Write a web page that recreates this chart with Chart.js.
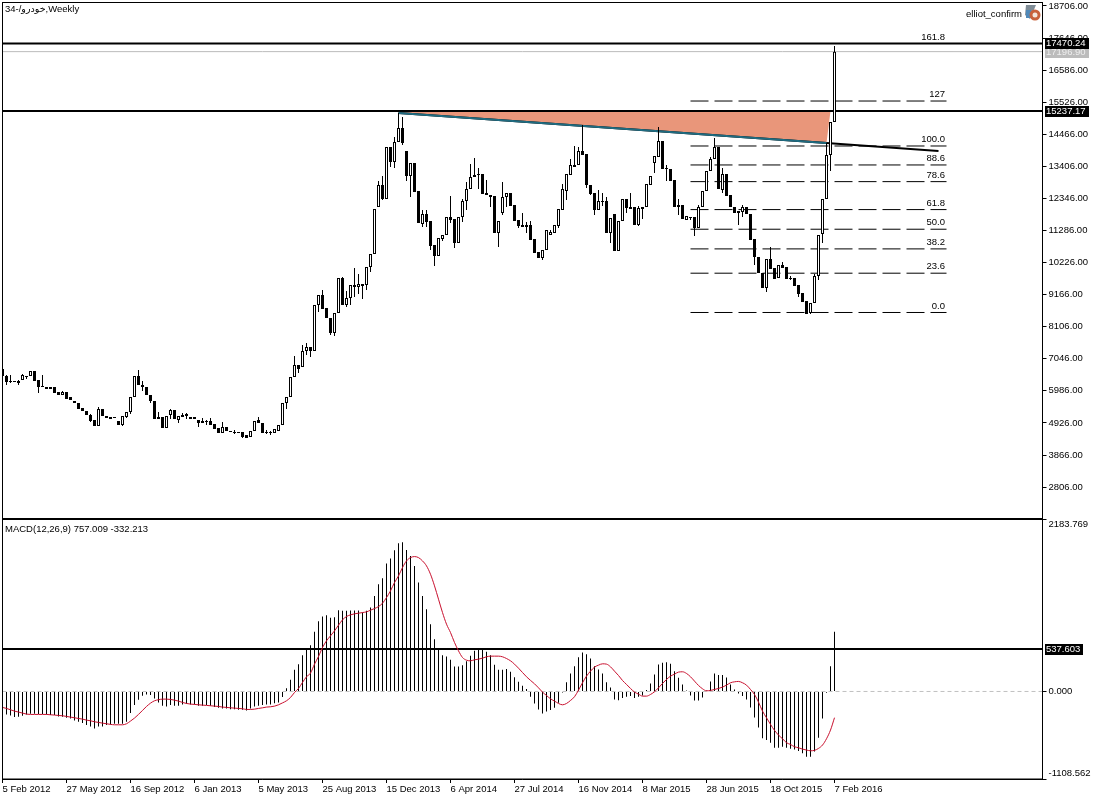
<!DOCTYPE html>
<html>
<head>
<meta charset="utf-8">
<style>html,body{margin:0;padding:0;background:#fff}canvas{display:block}</style>
<script src="https://cdn.jsdelivr.net/npm/chart.js@4"></script>
</head>
<body>
<canvas id="c" width="1100" height="800"></canvas>
<script>
const tickLabels = ["5 Feb 2012","27 May 2012","16 Sep 2012","6 Jan 2013","5 May 2013","25 Aug 2013","15 Dec 2013","6 Apr 2014","27 Jul 2014","16 Nov 2014","8 Mar 2015","28 Jun 2015","18 Oct 2015","7 Feb 2016"];
const priceTicks = [18706,17646,16586,15526,14466,13406,12346,11286,10226,9166,8106,7046,5986,4926,3866,2806];
const macdTicks = [2183.769,0,-1108.562];

const opens = [
6709,6477,6312,6312,6246,6345,6477,6477,6643,6345,
6147,6114,6048,6114,5949,5849,5949,5783,5651,5585,
5420,5321,5188,5023,4825,5387,5155,5122,5122,4990,
4858,5122,5288,5783,6477,6180,6114,5849,5651,5122,
5122,4759,5188,5354,5023,5122,5222,5122,5122,5023,
4924,4990,4990,4891,4759,4594,4792,4660,4627,4627,
4627,4527,4461,4660,5023,4924,4627,4627,4594,4660,
4858,5585,5783,6444,6841,6775,7303,7436,7303,8824,
9154,8725,8394,7899,8559,9716,8824,9055,9485,9419,
9518,9485,10080,10509,12063,12790,12327,14046,13550,14211,
14674,13914,13087,13517,12592,11501,11832,11600,10807,10443,
11005,11137,11732,11666,10873,11732,12261,12658,13054,13153,
13153,12525,12459,12426,11203,11864,12393,12525,12129,11633,
11468,11468,11468,11005,10575,10377,10642,11137,11203,11435,
11964,12592,13120,13451,13451,13914,13814,12790,12525,11964,
12261,12261,11203,11832,10608,11600,12327,12063,12063,11468,
12063,12063,12790,13517,13715,14244,13352,13319,12955,12063,
12129,11633,11732,11732,11369,12063,12592,13253,13649,14046,
12625,13153,12459,12063,11930,11897,12063,11832,11005,10410,
9882,9385,10344,10047,9716,10146,10080,9716,9716,9485,
9220,8956,8559,8890,9782,11170,12327,13781,14872];
const highs = [
6709,6510,6510,6312,6345,6544,6477,6643,6643,6345,
6510,6114,6114,6114,5949,5982,5949,5783,5651,5585,
5420,5321,5222,5023,5453,5387,5155,5122,5122,4990,
5155,5288,5783,6477,6676,6312,6114,5849,5651,5288,
5122,5155,5387,5354,5155,5255,5255,5122,5122,5023,
5089,5023,5089,4891,4759,4957,4792,4660,4693,4627,
4627,4527,4660,4990,5122,4924,4693,4660,4726,4858,
5585,5783,6444,7138,6841,7502,7568,7436,8824,9154,
9320,8725,8394,8559,9716,9749,9287,9485,10047,9849,
9518,10080,10509,11997,12922,13087,14046,14046,14376,15169,
15037,13914,13517,13517,12592,11964,11964,11600,10807,11038,
11137,11732,12426,11666,11732,12327,12889,13484,13682,13352,
13153,12955,12459,12426,11600,12889,12525,12525,12129,11633,
11864,11567,11600,11005,10575,10642,11303,11303,11468,11997,
12823,13153,13649,14079,14046,14773,13814,12790,12525,12625,
12525,12393,11699,11832,11600,12327,12327,12525,12063,12096,
12063,12823,13087,13748,14706,14244,13451,13319,12955,12327,
12129,11765,11732,11732,12129,12592,13253,13715,14343,14046,
13352,13153,12459,12063,11930,12129,12063,11832,11005,10410,
9882,10344,10741,10047,10146,10245,10080,9782,9716,9485,
9220,8956,8890,9849,11137,12327,14178,14872,17384];
const lows = [
6477,6180,6246,6279,6180,6345,6378,6477,6312,5916,
6114,6048,6048,5916,5849,5849,5717,5684,5585,5387,
5321,5188,4957,4825,4825,5155,5089,5056,5089,4858,
4825,5089,5222,5783,6180,5982,5849,5585,5056,5056,
4759,4759,5056,5056,4924,5122,5056,5056,5056,4792,
4924,4858,4858,4726,4594,4594,4660,4627,4561,4594,
4428,4428,4461,4660,4924,4594,4561,4527,4594,4660,
4858,5387,5783,6444,6577,6775,7171,7105,7303,8592,
8692,8394,7833,7800,8559,8824,8758,8824,9088,9187,
9022,9320,9915,10509,12063,12294,12327,13385,13352,14211,
14112,12922,12393,12559,11534,11402,11402,10642,10113,10443,
10939,11137,11534,10708,10873,11567,11964,12658,13054,12658,
12492,12459,12063,11203,10741,11798,12063,12096,11600,11369,
11402,11203,10972,10542,10377,10311,10642,11137,11203,11369,
11964,12294,13120,13385,13451,13781,12691,12459,11798,11964,
12096,11203,10873,10608,10608,11600,11864,11997,11468,11435,
11666,12063,12790,13186,13715,13319,12922,12922,12063,11798,
11666,11633,11633,11104,11369,12063,12592,13253,13649,12658,
12525,12426,12063,11864,11468,11732,11832,10972,10146,9882,
9385,9253,10014,9683,9716,10047,9683,9650,9452,9088,
8923,8526,8526,8890,9650,10873,12327,13253,14872];
const closes = [
6477,6279,6279,6279,6312,6510,6444,6643,6312,6114,
6114,6048,6114,5916,5849,5949,5717,5684,5585,5387,
5321,5188,4990,4825,5387,5155,5089,5056,5089,4858,
5155,5288,5783,6477,6180,6114,5849,5651,5056,5056,
4759,5155,5354,5056,5155,5188,5155,5056,5056,4924,
4990,4957,4858,4726,4594,4792,4660,4627,4594,4594,
4461,4428,4660,4990,4924,4594,4594,4594,4726,4858,
5585,5783,6444,6841,6709,7303,7436,7303,8824,9154,
8692,8394,7899,8559,9716,8824,9055,9485,9419,9518,
9452,10080,10509,11997,12790,12327,14046,13550,14211,14674,
14178,13087,13517,12559,11534,11832,11567,10774,10443,11038,
11137,11732,11633,10873,11732,12261,12658,13054,13120,13120,
12492,12459,12393,11203,11600,12393,12525,12096,11600,11435,
11402,11402,10972,10542,10377,10642,11303,11236,11468,11997,
12658,13153,13451,13385,13914,13781,12790,12492,11964,12261,
12228,11203,11699,10608,11600,12327,12030,11997,11468,12030,
11997,12823,13087,13748,14244,13319,13319,12922,12063,12129,
11666,11765,11699,11369,12063,12592,13253,13649,14046,12658,
13153,12426,12063,11864,11864,12063,11832,10972,10410,9882,
9385,10344,10014,9683,10146,10047,9683,9683,9452,9187,
8923,8526,8890,9782,11137,12327,13781,14872,17196.9];

const macdHist = [
-291,-291,-304,-325,-320,-308,-291,-283,-283,-287,
-287,-291,-299,-299,-316,-320,-333,-342,-367,-384,
-401,-426,-443,-468,-443,-443,-426,-417,-409,-409,
-409,-384,-274,-173,-105,-55,-38,-46,-89,-139,
-181,-190,-173,-181,-181,-164,-156,-164,-164,-181,
-181,-173,-181,-198,-207,-215,-215,-224,-224,-232,
-232,-240,-215,-190,-181,-173,-164,-164,-148,-139,
-70,42,148,274,346,460,544,586,755,890,
949,966,932,940,1029,1021,1021,1025,1025,1025,
999,1021,1063,1210,1358,1434,1619,1683,1788,1877,
1889,1792,1716,1590,1379,1210,1042,852,662,544,
460,443,401,316,316,333,384,451,514,536,
527,502,460,337,274,274,283,249,181,122,
72,30,-67,-152,-228,-278,-253,-236,-207,-143,
-13,118,228,320,434,493,472,417,320,278,
228,118,51,-101,-110,-84,-67,-59,-84,-67,
-51,17,101,215,342,363,371,350,257,173,
89,13,-51,-114,-114,-76,8,127,228,207,
207,177,89,25,-25,-59,-101,-202,-329,-455,
-594,-616,-649,-713,-713,-700,-713,-725,-734,-755,
-784,-826,-826,-759,-586,-342,-17,320,757.009];
const macdSignal = [
-202,-215,-232,-249,-261,-274,-287,-291,-291,-291,
-291,-291,-295,-299,-304,-308,-316,-325,-333,-342,
-350,-363,-371,-384,-392,-401,-409,-417,-422,-422,
-422,-409,-375,-337,-291,-240,-190,-148,-118,-105,
-97,-97,-101,-110,-122,-139,-152,-160,-164,-169,
-173,-177,-181,-186,-190,-198,-202,-207,-211,-215,
-219,-228,-228,-224,-215,-207,-198,-194,-186,-169,
-145,-118,-76,-13,38,114,186,232,346,443,
557,641,704,767,839,907,949,970,983,991,
999,1008,1029,1050,1075,1117,1189,1274,1379,1463,
1569,1653,1695,1708,1695,1653,1590,1484,1337,1168,
999,852,746,620,514,430,396,388,401,409,
422,439,447,447,447,439,417,388,346,295,
240,186,140,97,46,-8,-51,-93,-122,-152,
-169,-152,-114,-67,17,110,194,257,308,333,
350,346,312,257,202,139,89,38,-8,-34,
-59,-59,-38,-4,46,101,152,194,219,245,
249,228,186,131,76,34,8,13,25,38,
55,80,110,122,127,110,80,25,-38,-135,
-249,-333,-417,-493,-552,-599,-649,-671,-700,-713,
-730,-742,-751,-746,-721,-679,-599,-489,-332.213];

const fibLabels = ["0.0","23.6","38.2","50.0","61.8","78.6","88.6","100.0","127","161.8"];
const fibPrices = [8576,9875,10678,11328,11977,12901,13452,14079,15565,17470.24];
const fibBars = [172,236];
const resistance = 15237.17;
const fibTop = 17470.24;
const lastClose = 17196.90;
const macdLevel = 537.603;
const trendBars = [99,206,234];
const trendPrices = [15169,14175,13914];
const channelBars = [99,207,206,99];
const channelPrices = [15237,15237,14175,15169];

const FONT = '9.5px "Liberation Sans", "DejaVu Sans", sans-serif';
const TICKFONT = {family:'"Liberation Sans"',size:9.5};
const LAST = 260;
const hline = (y, axis, color, width, dash, order) => ({
  type:'line', yAxisID:axis, data:[{x:0,y},{x:LAST,y}], borderColor:color, borderWidth:width,
  borderDash:dash||[], pointRadius:0, order, fill:false
});
const fibSets = fibPrices.slice(0,9).map(p => ({
  type:'line', yAxisID:'y', data:fibBars.map(x=>({x,y:p})), borderColor:'#000', borderWidth:1,
  borderDash:[18,6], pointRadius:0, order:6, fill:false
}));

const overlay = {
  id:'overlay',
  afterDatasetsDraw(chart){
    const {ctx, scales:{y, m}} = chart;
    const L=2.5, R=1042.5;
    ctx.save();
    ctx.strokeStyle='#000'; ctx.lineWidth=1;
    ctx.strokeRect(L,2.5,R-L,516);
    ctx.strokeRect(L,519.5,R-L,259.5);
    ctx.font=FONT; ctx.textBaseline='middle'; ctx.fillStyle='#000';
    ctx.textAlign='left';
    ctx.fillText('34-/خودرو,Weekly',5,9);
    ctx.fillText('MACD(12,26,9) 757.009 -332.213',5,529);
    ctx.textAlign='right';
    ctx.fillText('elliot_confirm',1022,14);
    fibLabels.forEach((t,i)=>ctx.fillText(t,945,y.getPixelForValue(fibPrices[i])-6.5));
    // indicator badge
    ctx.fillStyle='#7f8c96'; ctx.beginPath(); ctx.moveTo(1026,5); ctx.lineTo(1036,5); ctx.lineTo(1033,12); ctx.lineTo(1030,19); ctx.lineTo(1025,15); ctx.closePath(); ctx.fill();
    ctx.fillStyle='#4f88b8'; ctx.fillRect(1026,10,5,8);
    ctx.fillStyle='#c8623c'; ctx.beginPath(); ctx.arc(1035,15,5.5,0,Math.PI*2); ctx.fill();
    ctx.fillStyle='#f2e6dc'; ctx.beginPath(); ctx.arc(1035,15,2.5,0,Math.PI*2); ctx.fill();
    // price tags
    const tag=(val,txt,w,bg,fg,sc)=>{
      const py=Math.round(sc.getPixelForValue(val));
      ctx.fillStyle=bg; ctx.fillRect(1045,py-5,w,11);
      ctx.fillStyle=fg; ctx.textAlign='left'; ctx.fillText(txt,1046,py+0.5);
    };
    tag(lastClose,'17196.90',44,'#bcbcbc','#eeeeee',y);
    tag(fibTop,'17470.24',44,'#000','#fff',y);
    tag(resistance,'15237.17',44,'#000','#fff',y);
    tag(macdLevel,'537.603',38,'#000','#fff',m);
    ctx.restore();
  }
};

const zeroPad = s => { s.paddingTop=0; s.paddingBottom=0; s.paddingLeft=0; s.paddingRight=0; };
const yBase = {
  type:'linear', position:'right', stack:'panes', offset:false,
  grid:{drawOnChartArea:false, tickLength:4, tickColor:'#000', color:'#000', drawTicks:true},
  border:{color:'#000'},
  afterFit(s){ s.width=57.5; zeroPad(s); }
};

new Chart(document.getElementById('c'),{
  type:'bar',
  data:{datasets:[
    {label:'Signal', type:'line', yAxisID:'m', data:macdSignal.map((y,x)=>({x,y})), borderColor:'#c8102e', borderWidth:1, pointRadius:0, cubicInterpolationMode:'monotone', order:0, fill:false},
    {label:'Body', yAxisID:'y', data:opens.map((o,x)=>({x,y:[o,closes[x]]})), barThickness:3, minBarLength:1, grouped:false, inflateAmount:0,
      backgroundColor:opens.map((o,i)=>closes[i]>=o?'#fff':'#000'), borderColor:'#000', borderWidth:1, borderSkipped:false, order:1},
    {label:'Wick', yAxisID:'y', data:lows.map((l,x)=>({x,y:[l,highs[x]]})), barThickness:1, grouped:false, inflateAmount:0, backgroundColor:'#000', borderWidth:0, order:2},
    {label:'MACD', yAxisID:'m', data:macdHist.map((y,x)=>({x,y})), barThickness:1, grouped:false, inflateAmount:0, minBarLength:1, backgroundColor:'#000', borderWidth:0, order:3},
    hline(fibTop,'y','#000',2,null,4),
    hline(resistance,'y','#000',2,null,4),
    hline(lastClose,'y','#bbbbbb',1,null,5),
    hline(macdLevel,'m','#000',2,null,4),
    hline(0,'m','#c0c0c0',1,[4,3],5),
    ...fibSets,
    {label:'Trend top', type:'line', yAxisID:'y', data:trendBars.slice(0,2).map((x,i)=>({x,y:trendPrices[i]})), borderColor:'#1f6b80', borderWidth:2, pointRadius:0, order:7, fill:false},
    {label:'Trend', type:'line', yAxisID:'y', data:trendBars.map((x,i)=>({x,y:trendPrices[i]})), borderColor:'#000', borderWidth:2, pointRadius:0, order:8, fill:false},
    {label:'Channel', type:'line', yAxisID:'y', data:channelBars.map((x,i)=>({x,y:channelPrices[i]})), borderColor:'rgba(0,0,0,0)', borderWidth:0, backgroundColor:'#e9967a', pointRadius:0, order:9, fill:'shape'}
  ]},
  options:{
    responsive:false, animation:false, events:[],
    layout:{padding:{left:2.5,top:2,right:0,bottom:0}},
    plugins:{legend:{display:false},tooltip:{enabled:false},title:{display:false}},
    scales:{
      x:{type:'linear', min:0, max:LAST, offset:false, position:'bottom',
        grid:{drawOnChartArea:false,tickLength:4,tickColor:'#000',color:'#000',offset:false},
        border:{color:'#000'},
        ticks:{autoSkip:false,maxRotation:0,minRotation:0,align:'start',padding:1,color:'#000',font:TICKFONT,
          callback:(v)=>tickLabels[Math.round(v/16)]},
        afterBuildTicks(s){ s.ticks=tickLabels.map((_,i)=>({value:i*16})); },
        afterFit(s){ s.height=21; zeroPad(s); }
      },
      y:{...yBase, stackWeight:517, min:1751, max:18838,
        ticks:{autoSkip:false,padding:2,color:'#000',font:TICKFONT,callback:v=>v.toFixed(2)},
        afterBuildTicks(s){ s.ticks=priceTicks.map(value=>({value})); }
      },
      m:{...yBase, stackWeight:260, min:-1108.562, max:2183.769,
        ticks:{autoSkip:false,padding:2,color:'#000',font:TICKFONT,
          callback:v=>v===macdTicks[0]?['',v.toFixed(3)]:v===macdTicks[2]?[v.toFixed(3),'']:v.toFixed(3)},
        afterBuildTicks(s){ s.ticks=macdTicks.map(value=>({value})); }
      }
    }
  },
  plugins:[overlay]
});
</script>
</body>
</html>
